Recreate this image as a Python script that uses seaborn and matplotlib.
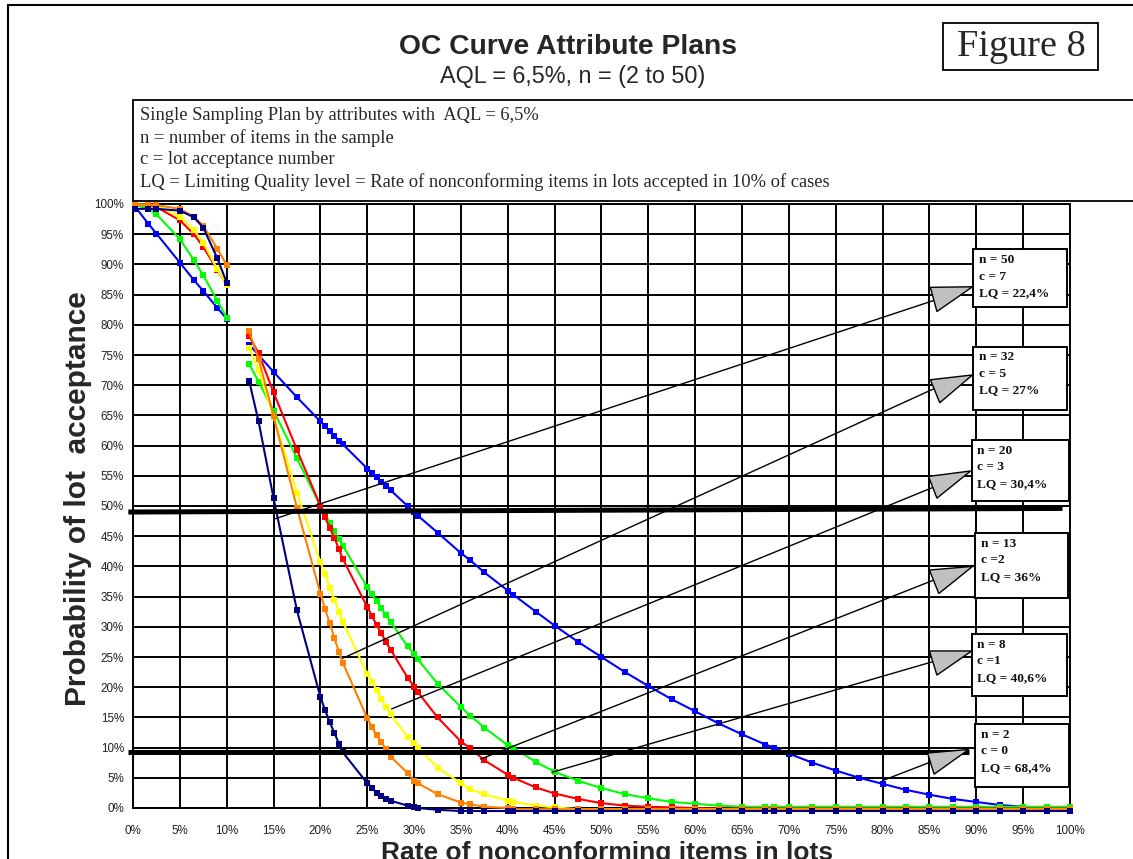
import numpy as np
import pandas as pd
import matplotlib
matplotlib.use("Agg")
import matplotlib.pyplot as plt
from matplotlib.patches import Rectangle, Polygon
import seaborn as sns

# ---------------- data ----------------
plans = ["n = 2, c = 0", "n = 8, c = 1", "n = 13, c = 2",
         "n = 20, c = 3", "n = 32, c = 5", "n = 50, c = 7"]
colors = ["#0000FF", "#00FF00", "#FF0000", "#FFFF00", "#FF8000", "#000080"]

rate_low = [0.25, 1.65, 2.5, 5, 6.5, 7.5, 9, 10]
rate_high = [12.4, 13.4, 15, 17.5, 20, 20.5, 21, 21.5, 22, 22.4,
             25, 25.5, 26, 26.5, 27, 27.5, 29.3, 30, 30.4, 32.5,
             35, 36, 37.5, 40, 40.6, 43, 45, 47.5, 50, 52.5,
             55, 57.5, 60, 62.5, 65, 67.5, 68.4, 70, 72.5, 75,
             77.5, 80, 82.5, 85, 87.5, 90, 92.5, 95, 97.5, 100]

pa_n2_low = [99.5, 96.7, 95.1, 90.3, 87.4, 85.6, 82.8, 81.0]
pa_n8_low = [99.9, 99.2, 98.3, 94.2, 90.7, 88.2, 84.0, 81.2]
pa_n13_low = [99.9, 99.8, 99.5, 97.3, 95.0, 92.9, 89.1, 86.6]
pa_n20_low = [99.9, 99.9, 99.8, 97.9, 95.7, 93.6, 89.2, 86.6]
pa_n32_low = [99.8, 99.8, 99.8, 99.2, 97.9, 96.4, 92.6, 89.9]
pa_n50_low = [99.2, 99.2, 99.2, 98.9, 97.8, 96.1, 91.0, 87.0]

pa_n2_high = [76.7, 75.0, 72.2, 68.0, 64.0, 63.2, 62.4, 61.6, 60.8, 60.2,
              56.2, 55.5, 54.8, 54.0, 53.3, 52.6, 50.0, 49.0, 48.4, 45.6,
              42.2, 41.0, 39.0, 36.0, 35.3, 32.5, 30.2, 27.5, 25.0, 22.5,
              20.2, 18.0, 16.0, 14.0, 12.2, 10.5, 10.0, 9.0, 7.5, 6.2,
              5.0, 4.0, 3.0, 2.2, 1.5, 1.0, 0.5, 0.2, 0.0, -0.2]
pa_n8_high = [73.5, 70.6, 65.8, 57.9, 50.0, 48.7, 47.2, 45.8, 44.5, 43.4,
              36.6, 35.4, 34.2, 33.1, 31.9, 30.8, 26.8, 25.5, 24.6, 20.6,
              16.7, 15.3, 13.3, 10.4, 10.0, 7.6, 6.0, 4.5, 3.3, 2.3,
              1.6, 1.0, 0.7, 0.4, 0.2, 0.2, 0.2, 0.2, 0.2, 0.2,
              0.2, 0.2, 0.2, 0.2, 0.2, 0.2, 0.2, 0.2, 0.2, 0.2]
pa_n13_high = [78.1, 75.3, 68.8, 59.3, 50.0, 48.1, 46.4, 44.7, 42.8, 41.2,
               33.3, 31.8, 30.3, 28.9, 27.5, 26.2, 21.6, 20.1, 19.2, 15.0,
               11.0, 9.9, 7.9, 5.5, 5.0, 3.4, 2.4, 1.5, 0.8, 0.4,
               0.2, 0.1, 0.0, -0.1, -0.1, -0.1, -0.1, -0.1, -0.1, -0.1,
               -0.1, -0.1, -0.1, -0.1, -0.1, -0.1, -0.1, -0.1, -0.1, -0.1]
pa_n20_high = [76.2, 72.5, 64.8, 52.2, 40.7, 38.7, 36.5, 34.4, 32.5, 30.8,
               22.2, 20.9, 19.5, 18.0, 16.7, 15.5, 11.8, 10.7, 10.0, 6.7,
               4.1, 3.1, 2.3, 1.2, 1.0, 0.4, 0.1, -0.2, -0.2, -0.2,
               -0.2, -0.2, -0.2, -0.2, -0.2, -0.2, -0.2, -0.2, -0.2, -0.2,
               -0.2, -0.2, -0.2, -0.2, -0.2, -0.2, -0.2, -0.2, -0.2, -0.2]
pa_n32_high = [78.9, 74.4, 64.9, 49.7, 35.5, 32.9, 30.6, 28.1, 25.8, 24.0,
               14.9, 13.4, 12.1, 10.9, 9.8, 8.5, 5.8, 4.5, 4.1, 2.3,
               0.9, 0.6, 0.2, 0.0, -0.2, -0.2, -0.2, -0.2, -0.2, -0.2,
               -0.2, -0.2, -0.2, -0.2, -0.2, -0.2, -0.2, -0.2, -0.2, -0.2,
               -0.2, -0.2, -0.2, -0.2, -0.2, -0.2, -0.2, -0.2, -0.2, -0.2]
pa_n50_high = [70.7, 64.0, 51.3, 32.7, 18.4, 16.2, 14.2, 12.4, 10.6, 9.2,
               4.1, 3.3, 2.5, 2.0, 1.5, 1.2, 0.4, 0.1, 0.0, -0.3,
               -0.5, -0.5, -0.5, -0.5, -0.5, -0.5, -0.5, -0.5, -0.5, -0.5,
               -0.5, -0.5, -0.5, -0.5, -0.5, -0.5, -0.5, -0.5, -0.5, -0.5,
               -0.5, -0.5, -0.5, -0.5, -0.5, -0.5, -0.5, -0.5, -0.5, -0.5]

low_values = [pa_n2_low, pa_n8_low, pa_n13_low, pa_n20_low, pa_n32_low, pa_n50_low]
high_values = [pa_n2_high, pa_n8_high, pa_n13_high, pa_n20_high, pa_n32_high, pa_n50_high]

# callout annotations: text, point on curve, LQ text
box_texts = [["n = 50", "c = 7", "LQ = 22,4%"],
             ["n = 32", "c = 5", "LQ = 27%"],
             ["n = 20", "c = 3", "LQ = 30,4%"],
             ["n = 13", "c =2", "LQ = 36%"],
             ["n = 8", "c =1", "LQ = 40,6%"],
             ["n = 2", "c = 0", "LQ = 68,4%"]]
callout_points = [(15.0, 47.8), (22.4, 24.8), (27.6, 16.4),
                  (37.1, 8.1), (44.7, 5.9), (80.1, 4.6)]

info_lines = ["Single Sampling Plan by attributes with  AQL = 6,5%",
              "n = number of items in the sample",
              "c = lot acceptance number",
              "LQ = Limiting Quality level = Rate of nonconforming items in lots accepted in 10% of cases"]

# ---------------- build long table ----------------
rows = []
for plan, lo, hi in zip(plans, low_values, high_values):
    for x, y in zip(rate_low, lo):
        rows.append((plan, 0, x, y))
    for x, y in zip(rate_high, hi):
        rows.append((plan, 1, x, y))
df = pd.DataFrame(rows, columns=["plan", "seg", "rate", "pa"])

# ---------------- figure ----------------
sns.set_theme(style="white")
plt.rcParams["font.family"] = ["Liberation Sans", "DejaVu Sans"]

W, H = 1133, 859
fig = plt.figure(figsize=(W / 100, H / 100), dpi=100)
fig.patch.set_facecolor("white")


def fx(px):
    return px / W


def fy(py):
    return 1 - py / H


ax = fig.add_axes([fx(133), fy(808), (1070 - 133) / W, (808 - 204) / H])

sns.lineplot(data=df, x="rate", y="pa", hue="plan", hue_order=plans,
             palette=dict(zip(plans, colors)), units="seg", estimator=None,
             sort=False, marker="s", markersize=4.6, markeredgewidth=0,
             linewidth=1.5, legend=False, ax=ax, clip_on=False, zorder=3)

ax.set_xlim(0, 100)
ax.set_ylim(0, 100)
ticks = np.arange(0, 101, 5)
ax.set_xticks(ticks)
ax.set_yticks(ticks)
ax.set_xticks(np.arange(0, 101, 2.5), minor=True)
ax.set_yticks(np.arange(0, 101, 2.5), minor=True)
ax.set_xticklabels([f"{t}%" for t in ticks])
ax.set_yticklabels([f"{t}%" for t in ticks])
ax.grid(True, which="major", color="black", linewidth=1.4)
ax.set_axisbelow(True)
ax.tick_params(axis="both", which="both", direction="inout", length=9,
               width=1.4, color="black", labelsize=8.4, labelcolor="#202020")
ax.tick_params(axis="x", which="major", pad=8)
ax.tick_params(axis="y", which="major", pad=2)
for sp in ax.spines.values():
    sp.set_color("black")
    sp.set_linewidth(1.4)

ax.set_xlabel("Rate of nonconforming items in lots", fontsize=19,
              fontweight="bold")
ax.xaxis.set_label_coords(0.506, -0.054)
ax.set_ylabel("Probability of lot  acceptance", fontsize=21.5,
              fontweight="bold")
ax.yaxis.set_label_coords(-0.044, 0.512)

# thick reference lines (50 % and 10 %)
ax.plot([-0.5, 99.2], [49.0, 49.6], color="black", lw=3.6, clip_on=False,
        zorder=6, solid_capstyle="butt")
ax.plot([-0.5, 89.2], [9.3, 9.3], color="black", lw=3.6, clip_on=False,
        zorder=6, solid_capstyle="butt")

# callouts
line_ends = [(85.6, 84.1), (85.6, 69.5), (85.4, 53.1), (85.4, 37.7),
             (85.3, 24.2), (85.1, 7.6)]
triangles = [[(85.1, 86.2), (89.6, 86.3), (85.8, 82.2)],
             [(85.1, 70.9), (89.6, 71.7), (86.1, 67.1)],
             [(84.9, 54.9), (89.4, 55.8), (85.8, 51.3)],
             [(85.0, 39.4), (89.6, 40.0), (86.0, 35.5)],
             [(85.0, 26.0), (89.5, 26.0), (85.8, 22.0)],
             [(84.8, 9.1), (89.2, 9.7), (85.5, 5.6)]]
boxes = [(89.7, 99.7, 92.5, 83.0), (89.7, 99.7, 76.4, 65.9),
         (89.5, 99.9, 60.9, 50.9), (89.9, 99.8, 45.5, 34.7),
         (89.5, 99.7, 28.8, 18.6), (89.9, 99.9, 13.9, 3.4)]
for txt, pt, end, tri, box in zip(box_texts, callout_points, line_ends,
                                  triangles, boxes):
    ax.plot([pt[0], end[0]], [pt[1], end[1]], color="black", lw=1.0,
            zorder=7, clip_on=False)
    ax.add_patch(Polygon(tri, closed=True, facecolor="#c0c0c0",
                         edgecolor="black", lw=1.0, zorder=8, clip_on=False))
    x0, x1, yt, yb = box
    ax.add_patch(Rectangle((x0, yb), x1 - x0, yt - yb, facecolor="white",
                           edgecolor="black", lw=1.4, zorder=9,
                           clip_on=False))
    for i, line in enumerate(txt):
        ax.text(x0 + 0.55, yt - 1.77 - i * 2.75, line, fontsize=9.6,
                fontweight="bold", family=["Liberation Serif", "DejaVu Serif"],
                va="center", ha="left", zorder=10, color="#101010")

# ---------------- figure-level decorations ----------------
fig.patches.append(Rectangle((fx(8), -0.1), 1.2, fy(5) + 0.1,
                             transform=fig.transFigure, fill=False,
                             edgecolor="black", lw=1.5))
fig.text(fx(568), fy(47), "OC Curve Attribute Plans", ha="center",
         va="center", fontsize=20.3, fontweight="bold")
fig.text(fx(573), fy(77), "AQL = 6,5%, n = (2 to 50)", ha="center",
         va="center", fontsize=16.8)

fig.patches.append(Rectangle((fx(943), fy(70)), (1098 - 943) / W, 47 / H,
                             transform=fig.transFigure, fill=False,
                             edgecolor="black", lw=1.3))
fig.text(fx(1021), fy(47), "Figure 8", ha="center", va="center",
         fontsize=27.5, family=["Liberation Serif", "DejaVu Serif"])

fig.patches.append(Rectangle((fx(133), fy(201)), 1.0, 101 / H,
                             transform=fig.transFigure, facecolor="white",
                             edgecolor="black", lw=1.3, zorder=1))
for i, line in enumerate(info_lines):
    fig.text(fx(140), fy(116 + 22 * i), line, ha="left", va="center",
             fontsize=13.3, family=["Liberation Serif", "DejaVu Serif"],
             zorder=2)

fig.savefig("out.png", dpi=100)
